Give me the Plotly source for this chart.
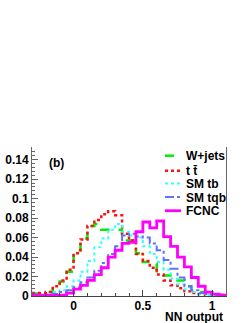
import plotly.graph_objects as go

# ---------------- data ----------------
bin_edges = [-0.3, -0.25, -0.2, -0.15, -0.1, -0.05, 0.0, 0.05, 0.1, 0.15, 0.2, 0.25, 0.3, 0.35,
             0.4, 0.45, 0.5, 0.55, 0.6, 0.65, 0.7, 0.75, 0.8, 0.85, 0.9, 0.95, 1.0, 1.05, 1.1]

wjets = [0.0025, 0.0025, 0.004, 0.009, 0.015, 0.025, 0.047, 0.059, 0.072, 0.074, 0.068, 0.068,
         0.068, 0.057, 0.057, 0.044, 0.035, 0.033, 0.024, 0.021, 0.021, 0.016, 0.010, 0.006,
         0.004, 0.002, 0.001, 0.001]
ttbar = [0.003, 0.003, 0.004, 0.010, 0.016, 0.027, 0.044, 0.058, 0.072, 0.078, 0.084, 0.087,
         0.083, 0.064, 0.057, 0.043, 0.036, 0.029, 0.022, 0.016, 0.011, 0.008, 0.005, 0.003,
         0.002, 0.001, 0.001, 0.001]
sm_tb = [0.001, 0.001, 0.002, 0.004, 0.006, 0.010, 0.016, 0.025, 0.036, 0.050, 0.059, 0.068,
         0.074, 0.066, 0.062, 0.060, 0.051, 0.043, 0.035, 0.027, 0.018, 0.012, 0.007, 0.004,
         0.002, 0.001, 0.001, 0.0005]
sm_tqb = [0.001, 0.001, 0.001, 0.002, 0.004, 0.006, 0.009, 0.014, 0.019, 0.026, 0.034, 0.043,
          0.051, 0.062, 0.064, 0.061, 0.060, 0.054, 0.047, 0.037, 0.028, 0.019, 0.010, 0.006,
          0.003, 0.002, 0.001, 0.001]
fcnc = [0.001, 0.001, 0.001, 0.001, 0.001, 0.003, 0.007, 0.011, 0.016, 0.022, 0.029, 0.040,
        0.047, 0.054, 0.055, 0.066, 0.076, 0.070, 0.077, 0.061, 0.051, 0.040, 0.030, 0.019,
        0.010, 0.004, 0.002, 0.001]

series_names = ["W+jets", "t t\u0304", "SM tb", "SM tqb", "FCNC"]
x_ticks = [0, 0.5, 1]
x_tick_labels = ["0", "0.5", "1"]
y_ticks = [0, 0.02, 0.04, 0.06, 0.08, 0.1, 0.12, 0.14]
y_tick_labels = ["0", "0.02", "0.04", "0.06", "0.08", "0.1", "0.12", "0.14"]

# ---------------- styles ----------------
styles = [
    dict(color="#00ee00", dash="dash", width=2.5),
    dict(color="#ff1010", dash="dot", width=2.5),
    dict(color="#33ffff", dash="dot", width=2),
    dict(color="#6070ff", dash="dashdot", width=2),
    dict(color="#ff00ff", dash="solid", width=2.8),
]
series = [wjets, ttbar, sm_tb, sm_tqb, fcnc]

W, H = 249, 323
L, R, T, B = 32, 23, 147, 27
pw, ph = W - L - R, H - T - B

FONT = dict(family="Liberation Sans, Arial, sans-serif", size=12, color="black", weight="bold")

fig = go.Figure()
for vals, st, name in zip(series, styles, series_names):
    fig.add_trace(go.Scatter(
        x=bin_edges, y=vals + [vals[-1]], mode="lines", line_shape="hv",
        line=dict(color=st["color"], dash=st["dash"], width=st["width"]),
        name=name, showlegend=False, hoverinfo="skip", cliponaxis=True))

def px2paper(xp, yp):
    return (xp - L) / pw, (H - B - yp) / ph

# manual legend
leg_y = [155.7, 170.8, 183.5, 197.0, 210.7]
for st, name, yp in zip(styles, series_names, leg_y):
    x0, y0 = px2paper(165, yp)
    x1, _ = px2paper(181, yp)
    fig.add_shape(type="line", xref="paper", yref="paper", x0=x0, x1=x1, y0=y0, y1=y0,
                  line=dict(color=st["color"], dash=st["dash"], width=st["width"]))
    tx, ty = px2paper(184.5, yp + 0.5)
    fig.add_annotation(xref="paper", yref="paper", x=tx, y=ty, text=name, showarrow=False,
                       xanchor="left", yanchor="middle", font=FONT, borderpad=0)

bx, by = px2paper(56.5, 163)
fig.add_annotation(xref="paper", yref="paper", x=bx, y=by, text="(b)", showarrow=False,
                   xanchor="center", yanchor="middle", font=FONT)
nx, ny = px2paper(224, 316.5)
fig.add_annotation(xref="paper", yref="paper", x=nx, y=ny, text="NN output", showarrow=False,
                   xanchor="right", yanchor="middle", font=FONT, borderpad=0)

fig.update_layout(
    width=W, height=H, margin=dict(l=L, r=R, t=T, b=B, autoexpand=False),
    paper_bgcolor="white", plot_bgcolor="white", showlegend=False,
    font=FONT,
)
fig.update_xaxes(
    range=[-0.3, 1.1], tickvals=x_ticks, ticktext=x_tick_labels, automargin=False,
    showgrid=False, zeroline=False, showline=True, linecolor="#444", linewidth=1,
    ticks="inside", ticklen=6, tickcolor="#444", tickfont=FONT, ticklabelstandoff=-1,
    minor=dict(dtick=0.1, tick0=0, ticks="inside", ticklen=3, tickcolor="#444"),
)
fig.update_yaxes(
    range=[0, 0.153], tickvals=y_ticks, ticktext=y_tick_labels, automargin=False,
    showgrid=False, zeroline=False, showline=True, linecolor="#666", linewidth=1, mirror=True,
    ticks="inside", ticklen=6, tickcolor="#666", tickfont=FONT,
    minor=dict(dtick=0.004, tick0=0, ticks="inside", ticklen=3, tickcolor="#666"),
)

fig.write_html("out.html", config={"displayModeBar": False, "staticPlot": True},
               post_script="document.body.style.margin='0';document.body.style.overflow='hidden';")
